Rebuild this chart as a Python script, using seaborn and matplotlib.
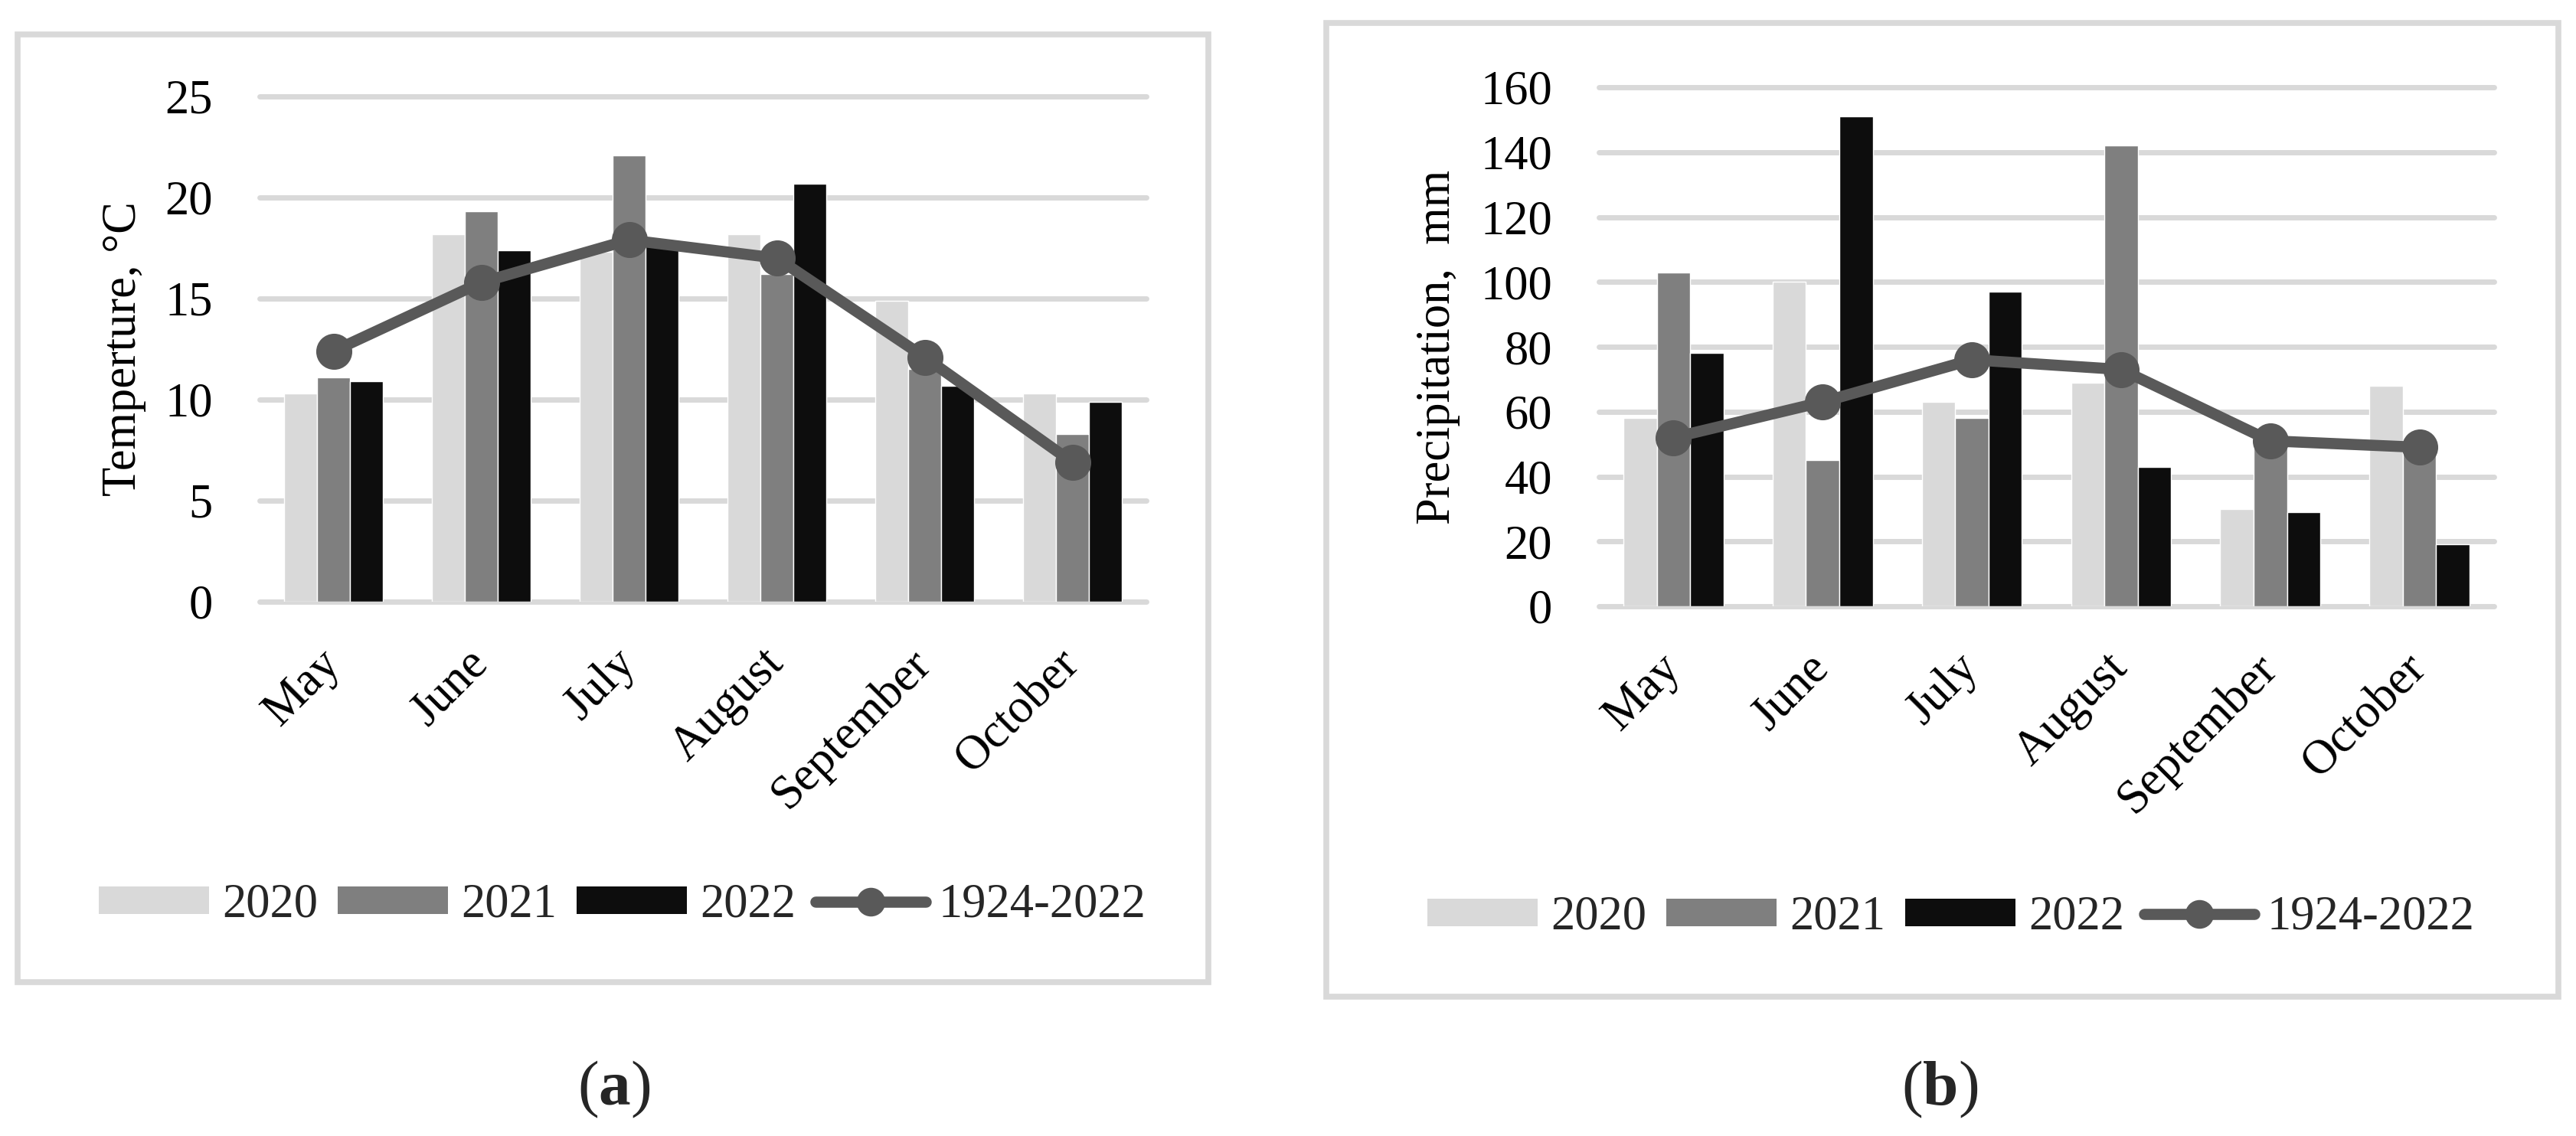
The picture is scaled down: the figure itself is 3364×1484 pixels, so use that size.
import numpy as np
import pandas as pd
import matplotlib
matplotlib.use("Agg")
import matplotlib.pyplot as plt
from matplotlib.patches import Rectangle, Patch
from matplotlib.lines import Line2D
import seaborn as sns

# ---------------- data ----------------
months = ["May", "June", "July", "August", "September", "October"]
years = ["2020", "2021", "2022"]
norm_label = "1924-2022"

temp_2020 = [10.3, 18.2, 17.3, 18.2, 14.9, 10.3]
temp_2021 = [11.1, 19.3, 22.1, 16.2, 11.5, 8.3]
temp_2022 = [10.9, 17.4, 17.9, 20.7, 10.7, 9.9]
temp_norm = [12.4, 15.8, 17.9, 17.0, 12.1, 6.9]

prec_2020 = [58, 100, 63, 69, 30, 68]
prec_2021 = [103, 45, 58, 142, 49, 50]
prec_2022 = [78, 151, 97, 43, 29, 19]
prec_norm = [52, 63, 76, 73, 51, 49]

temp_ticks = [0, 5, 10, 15, 20, 25]
prec_ticks = [0, 20, 40, 60, 80, 100, 120, 140, 160]

bar_colors = ["#d9d9d9", "#7f7f7f", "#0d0d0d"]
line_color = "#595959"
grid_color = "#d9d9d9"

# ---------------- style ----------------
sns.set_theme(style="white")
plt.rcParams["font.family"] = ["Liberation Serif", "DejaVu Serif"]
plt.rcParams["mathtext.fontset"] = "custom"
plt.rcParams["mathtext.rm"] = "Liberation Serif"
plt.rcParams["mathtext.bf"] = "Liberation Serif:bold"

FS = 45
LW = 10.5
MS = 26

fig = plt.figure(figsize=(33.64, 14.84), dpi=100)
W, H = 3364.0, 1484.0


def px_axes(left, top, right, bottom):
    return fig.add_axes([left / W, 1 - bottom / H, (right - left) / W, (bottom - top) / H])


def draw_panel(ax, series, norm, ticks, ylabel, label_x):
    df = pd.DataFrame({
        "month": months * len(years),
        "year": np.repeat(years, len(months)),
        "value": np.concatenate(series),
    })
    sns.barplot(data=df, x="month", y="value", hue="year", order=months,
                hue_order=years, palette=bar_colors, width=0.67, gap=0,
                saturation=1, errorbar=None, legend=False, ax=ax, zorder=2)
    sns.pointplot(x=months, y=norm, order=months, color=line_color,
                  markers="o", markersize=MS, linewidth=LW, errorbar=None,
                  ax=ax, zorder=3)
    ax.set_xlim(-0.5, len(months) - 0.5)
    ax.set_ylim(ticks[0], ticks[-1])
    ax.set_yticks(ticks)
    ax.set_yticklabels([str(t) for t in ticks])
    ax.yaxis.grid(True, color=grid_color, linewidth=5)
    ax.xaxis.grid(False)
    ax.set_axisbelow(True)
    for gl in ax.get_ygridlines():
        gl.set_clip_on(False)
    for s in ax.spines.values():
        s.set_visible(False)
    ax.tick_params(axis="both", length=0, labelsize=FS, colors="black")
    ax.tick_params(axis="y", pad=44)
    ax.tick_params(axis="x", pad=52)
    for lab in ax.get_xticklabels():
        lab.set_rotation(45)
        lab.set_ha("right")
        lab.set_va("center")
        lab.set_rotation_mode("anchor")
    ax.set_xlabel("")
    ax.set_ylabel(ylabel, fontsize=FS, color="black")
    ax.yaxis.set_label_coords(label_x, 0.5)
    ax.set_facecolor("none")


ax_a = px_axes(339, 126, 1497, 786)
draw_panel(ax_a, [temp_2020, temp_2021, temp_2022], temp_norm, temp_ticks,
           "Temperture, °C", -0.128)

ax_b = px_axes(2088, 114, 3257, 792)
draw_panel(ax_b, [prec_2020, prec_2021, prec_2022], prec_norm, prec_ticks,
           "Precipitation,  mm", -0.155)

# panel frames
for (l, t, r, b) in [(23, 45, 1578, 1283), (1732, 30, 3341, 1302)]:
    fig.add_artist(Rectangle((l / W, 1 - b / H), (r - l) / W, (b - t) / H,
                             transform=fig.transFigure, fill=False,
                             edgecolor=grid_color, linewidth=5.5, zorder=0))

# legends
handles = [Patch(facecolor=c, edgecolor="none") for c in bar_colors] + [
    Line2D([0], [0], color=line_color, lw=LW, marker="o", markersize=MS)]
labels = years + [norm_label]
for cx, cy in [(813 / W, 1 - 1183 / H), (2548 / W, 1 - 1199 / H)]:
    fig.legend(handles, labels, loc="center", bbox_to_anchor=(cx, cy),
               ncol=4, frameon=False, fontsize=45, handlelength=2.3,
               handleheight=0.5, handletextpad=0.27, columnspacing=0.42)

# captions
fig.text(802 / W, 1 - 1423 / H, r"$\mathrm{(}\mathbf{a}\mathrm{)}$",
         ha="center", va="center", fontsize=60)
fig.text(2533 / W, 1 - 1423 / H, r"$\mathrm{(}\mathbf{b}\mathrm{)}$",
         ha="center", va="center", fontsize=60)

fig.savefig("out.png", dpi=100, facecolor="white")
